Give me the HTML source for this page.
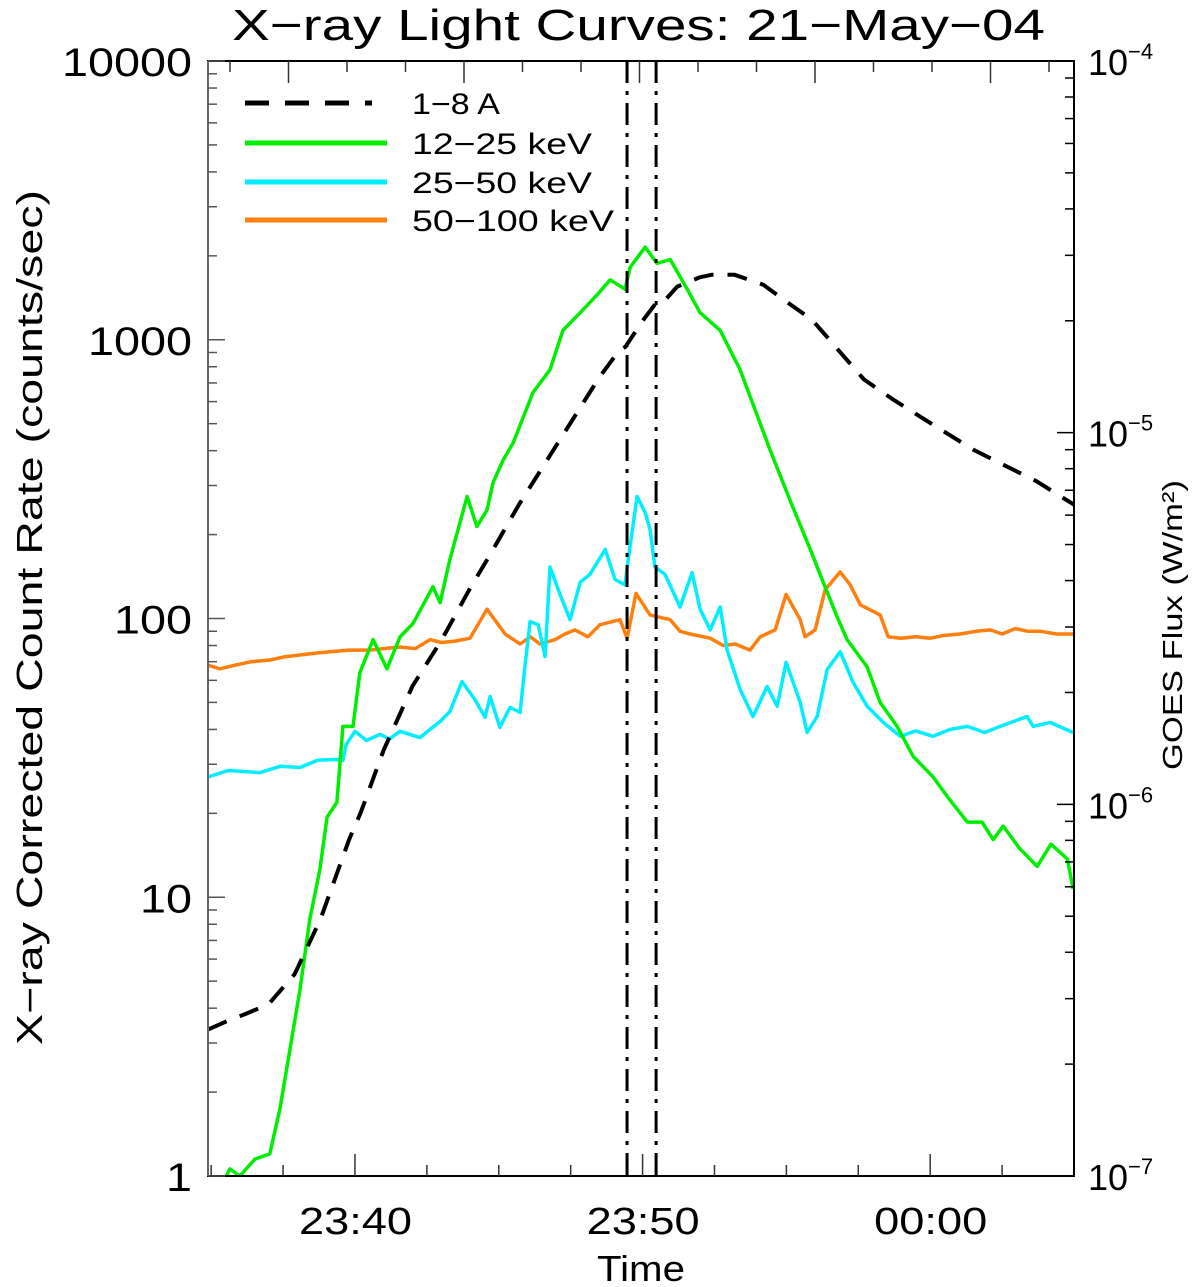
<!DOCTYPE html>
<html><head><meta charset="utf-8"><style>
html,body{margin:0;padding:0;background:#fff;}
svg{display:block;font-family:"Liberation Sans",sans-serif;}
</style></head><body>
<svg id="chart" width="1200" height="1287" viewBox="0 0 1200 1287" xmlns="http://www.w3.org/2000/svg">
<text x="232" y="40" font-size="44" textLength="813" lengthAdjust="spacingAndGlyphs" fill="#000">X−ray Light Curves: 21−May−04</text>
<text x="597" y="1281" font-size="36" textLength="88" lengthAdjust="spacingAndGlyphs" fill="#000">Time</text>
<text transform="translate(42,1045) rotate(-90)" font-size="36" textLength="855" lengthAdjust="spacingAndGlyphs" fill="#000">X−ray Corrected Count Rate (counts/sec)</text>
<text transform="translate(1182,770) rotate(-90)" font-size="28" textLength="290" lengthAdjust="spacingAndGlyphs" fill="#000">GOES Flux (W/m²)</text>
<g id="marks"></g>
<g id="axes"></g>
<g>
<line x1="245" y1="103" x2="372" y2="103" stroke="#000" stroke-width="5" stroke-dasharray="24,16"/>
<text x="412" y="114" font-size="30" textLength="88" lengthAdjust="spacingAndGlyphs">1−8 A</text>
<line x1="245" y1="143" x2="387" y2="143" stroke="#00ee00" stroke-width="5"/>
<text x="412" y="154" font-size="30" textLength="180" lengthAdjust="spacingAndGlyphs">12−25 keV</text>
<line x1="245" y1="182" x2="387" y2="182" stroke="#00eeff" stroke-width="5"/>
<text x="412" y="193" font-size="30" textLength="180" lengthAdjust="spacingAndGlyphs">25−50 keV</text>
<line x1="245" y1="220" x2="387" y2="220" stroke="#ff7f0e" stroke-width="5"/>
<text x="412" y="231" font-size="30" textLength="202" lengthAdjust="spacingAndGlyphs">50−100 keV</text>
</g>
</svg>
<script>
// time in minutes after 23:30
const goesT = [4.9,5.5,6.2,7.0,7.9,8.8,9.8,10.2,11.0,12.0,13.0,14.0,14.6,15.7,17.1,18.5,19.2,19.4,20.0,20.5,20.8,21.2,22.0,22.4,23.2,24.2,24.9,25.9,26.8,27.7,28.7,30.1,31.5,32.4,33.7,35.0];
const goesV = [2.48e-7,2.6e-7,2.73e-7,2.9e-7,3.49e-7,4.91e-7,8.05e-7,9.5e-7,1.4e-6,2.08e-6,2.76e-6,3.81e-6,4.56e-6,6.4e-6,9.5e-6,1.41e-5,1.67e-5,1.70e-5,2.0e-5,2.25e-5,2.28e-5,2.47e-5,2.62e-5,2.66e-5,2.66e-5,2.50e-5,2.28e-5,2.01e-5,1.67e-5,1.39e-5,1.23e-5,1.05e-5,9.0e-6,8.3e-6,7.4e-6,6.4e-6];
const greenT = [5.3,5.65,6.0,6.52,7.04,7.39,7.74,8.09,8.43,8.78,9.03,9.37,9.58,9.93,10.17,10.63,11.11,11.57,12.02,12.71,12.96,13.30,13.90,14.24,14.59,14.80,15.15,15.50,16.19,16.78,17.23,17.83,18.42,18.87,19.39,19.57,20.09,20.50,20.96,21.55,22.0,22.70,23.39,24.43,25.13,25.83,26.28,26.77,27.11,27.81,28.26,28.85,29.41,30.10,30.59,31.29,31.8,32.19,32.54,33.1,33.72,34.2,34.77,34.97];
const greenV = [0.9,1.06,1.0,1.15,1.2,1.74,2.85,4.67,8.34,12.6,19.4,21.9,41,41,64,84,66,86,96,130,114,163,274,214,245,307,370,427,647,781,1080,1250,1450,1640,1520,1820,2150,1880,1940,1520,1250,1080,781,403,265,177,135,101,84,67,50,41,32,27,23,18.6,18.6,16.1,18.0,15,12.9,15.5,13.7,10.7];
const cyanT = [4.89,5.6,6.70,7.4,8.09,8.7,9.30,9.58,9.69,10.0,10.4,10.87,11.2,11.57,12.26,12.61,12.96,13.30,13.72,14.17,14.52,14.70,15.04,15.39,15.74,15.91,16.09,16.37,16.61,16.78,17.13,17.48,17.83,18.17,18.70,19.04,19.39,19.50,19.81,20.09,20.26,20.43,20.78,21.30,21.72,22.0,22.35,22.70,22.94,23.39,23.84,24.33,24.68,24.99,25.48,25.72,26.07,26.42,26.87,27.32,27.81,28.37,28.96,29.5,30.10,30.7,31.29,31.9,32.43,33.37,33.58,34.17,34.97];
const cyanV = [27,28.5,28,29.5,29.2,31,31.2,31,35.3,39.4,36.5,38.4,37,39.4,37.4,40,42.7,46.4,59.4,51.2,44.2,52.5,40.7,48,46,67.3,97.5,95,73,153,122,99,135,144,177,138,132,163,274,240,208,153,144,110,146,108,91,110,77,55.7,44.5,57,48.4,69.6,50,39,44.5,65.6,76,59,48.4,42.4,37.8,39.5,37.8,40,41,39,41,44.5,41,42.4,39];
const orangeT = [4.89,5.3,5.83,6.4,7.04,7.6,8.09,8.6,9.13,9.8,10.52,11.0,11.57,12.1,12.61,13.0,13.48,14.0,14.59,15.22,15.74,16.1,16.43,16.96,17.3,17.65,18.1,18.52,19.22,19.46,19.77,20.26,20.96,21.3,21.65,22.35,22.8,23.22,23.74,24.09,24.61,24.99,25.48,25.65,26.0,26.35,26.87,27.22,27.57,28.26,28.54,28.96,29.5,30.0,30.5,31.04,31.6,32.09,32.5,32.96,33.4,33.83,34.4,34.97];
const orangeV = [68,66,68,70,71,73,74,75,76,77,77,78,79,78,84,82,83,85,108,88,81,86,81,84,88,91,86,95,99,85,123,103,99,90,88,85,80,81,77,86,91,122,99,86,91,127,147,132,112,103,86,85,86,85,87,88,90,91,88,92,90,90,88,88];
const vLineT = [19.46,20.47];
const xTickLabels = ["23:40","23:50","00:00"];
const xTickT = [10,20,30];
const yTickVals = [1,10,100,1000,10000];
const yTickLabels = ["1","10","100","1000","10000"];
const rTickExp = [-7,-6,-5,-4];

const L=208,R=1074,T=61,B=1176,T0=4.89,T1=35.0;
const NS="http://www.w3.org/2000/svg";
function xs(t){return L+(t-T0)/(T1-T0)*(R-L);}
function yl(v){return B-(Math.log10(v)-0)/4*(B-T);}
function yr(v){return B-(Math.log10(v)+7)/3*(B-T);}
function mk(tag,attrs,parent){const e=document.createElementNS(NS,tag);for(const k in attrs)e.setAttribute(k,attrs[k]);parent.appendChild(e);return e;}
const marks=document.getElementById('marks');
const axes=document.getElementById('axes');
const defs=mk('defs',{},marks);
const cp=mk('clipPath',{id:'clip'},defs);
mk('rect',{x:L,y:T,width:R-L,height:B-T},cp);
function series(ts,vs,yf,color,name,dash){
  let d='';
  for(let i=0;i<ts.length;i++){
    const x=xs(ts[i]),y=yf(vs[i]);
    d+=(i?'L':'M')+x.toFixed(1)+','+y.toFixed(1);
  }
  const p=mk('path',{d:d,fill:'none',stroke:color,'stroke-width':dash?4:3.5,'stroke-linejoin':'round','clip-path':'url(#clip)'},marks);
  if(dash)p.setAttribute('stroke-dasharray',dash);
  
  
}
series(orangeT,orangeV,yl,'#ff7f0e','series-50-100-kev');
series(cyanT,cyanV,yl,'#00eeff','series-25-50-kev');
series(greenT,greenV,yl,'#00ee00','series-12-25-kev');
series(goesT,goesV,yr,'#000','series-goes-1-8a','20,14');
vLineT.forEach((t,i)=>{
  const l=mk('line',{x1:xs(t),x2:xs(t),y1:T,y2:B,stroke:'#000','stroke-width':3,'stroke-dasharray':'22,8,4,8'},marks);
  
  
});
const box=mk('rect',{x:L,y:T,width:R-L,height:B-T,fill:'none',stroke:'#000','stroke-width':2},axes);


mk('line',{x1:L,y1:T,x2:L,y2:B,stroke:'#666','stroke-width':2},axes);
for(let e=0;e<4;e++){for(let m=2;m<=9;m++){const y=yl(m*Math.pow(10,e));mk('line',{x1:L,x2:L+9,y1:y,y2:y,stroke:'#555','stroke-width':1.5},axes);}}
yTickVals.forEach((v,i)=>{
  const y=yl(v);
  mk('line',{x1:L,x2:L+17,y1:y,y2:y,stroke:'#555','stroke-width':1.5},axes);
  const lbl=yTickLabels[i];
  const t=mk('text',{x:192-26*lbl.length,y:y+15,'font-size':40,textLength:26*lbl.length,lengthAdjust:'spacingAndGlyphs'},axes);
  t.textContent=lbl;
  
  
});
for(let e=-7;e<-4;e++){for(let m=2;m<=9;m++){const y=yr(m*Math.pow(10,e));mk('line',{x1:R-9,x2:R,y1:y,y2:y,stroke:'#000','stroke-width':1.5},axes);}}
rTickExp.forEach(ex=>{
  const y=yr(Math.pow(10,ex));
  mk('line',{x1:R-17,x2:R,y1:y,y2:y,stroke:'#000','stroke-width':1.5},axes);
  const t=mk('text',{x:R+14,y:y+14,'font-size':36},axes);
  t.textContent='10';
  const s=mk('tspan',{dy:-16,'font-size':22},t);
  s.textContent='−'+(-ex);
  
  
});
for(let t=5;t<=35;t+=2.5){
  const x=xs(t); if(x<L+1||x>R-1)continue;
  const major=(t%10===0);
  mk('line',{x1:x,x2:x,y1:B,y2:B-(major?22:11),stroke:'#333','stroke-width':1.5},axes);
}
xTickT.forEach((t,i)=>{
  const tx=mk('text',{x:xs(t)-56,y:1234,'font-size':38,textLength:113,lengthAdjust:'spacingAndGlyphs'},axes);
  tx.textContent=xTickLabels[i];
  
  
});
for(let k=0;k<15;k++){
  const x=230+58.5*k; if(x>R-2)break;
  mk('line',{x1:x,x2:x,y1:T,y2:T+(k%3===1?22:11),stroke:'#333','stroke-width':1.5},axes);
}
</script>
</body></html>
